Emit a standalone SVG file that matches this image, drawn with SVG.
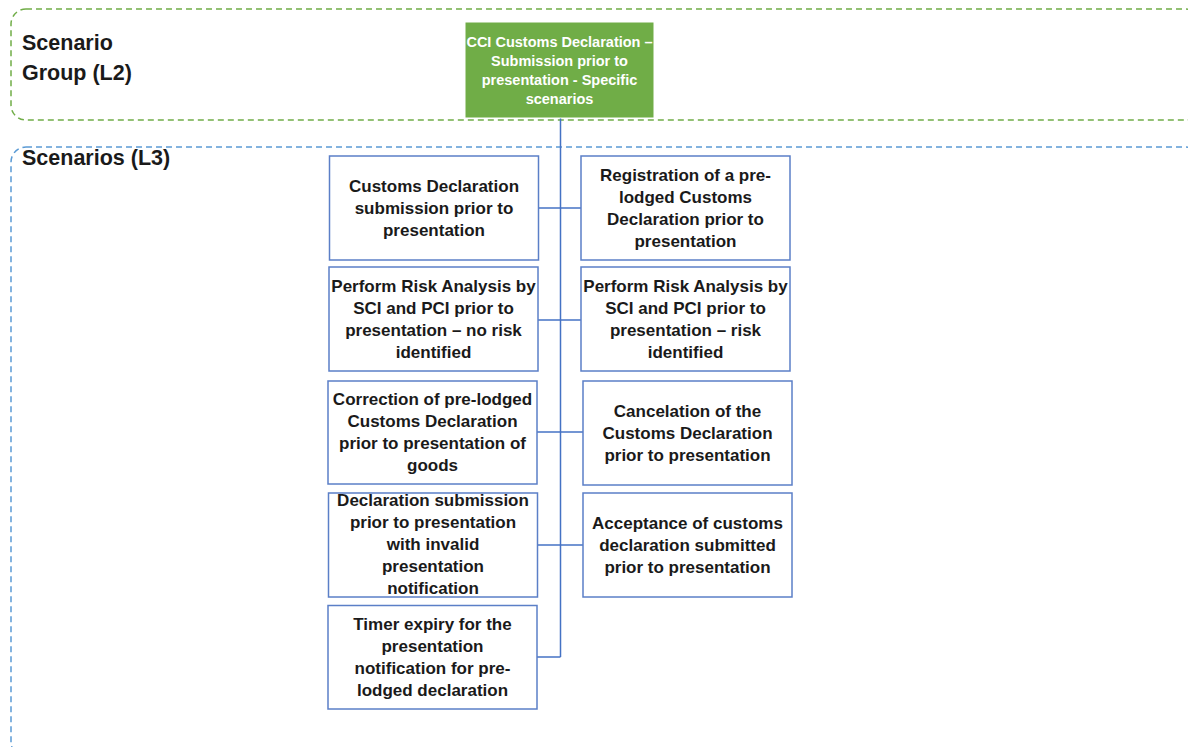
<svg xmlns="http://www.w3.org/2000/svg" width="1188" height="747" viewBox="0 0 1188 747">
<style>
.bg{fill:#ffffff}
.grp{fill:none;stroke-width:1.5;stroke-dasharray:6 4}
.g2{stroke:#70AD47}
.g3{stroke:#5B9BD5}
.hd{font-family:"Liberation Sans",Arial,sans-serif;font-weight:bold;font-size:21.5px;fill:#1a1a1a}
.box{fill:#ffffff;stroke:#5B7FC7;stroke-width:1.5}
.top{fill:#70AD47;stroke:#ffffff;stroke-width:1}
.t{font-family:"Liberation Sans",Arial,sans-serif;font-weight:bold;font-size:17px;fill:#1a1a1a;text-anchor:middle}
.tw{font-family:"Liberation Sans",Arial,sans-serif;font-weight:bold;font-size:14.5px;fill:#ffffff;text-anchor:middle}
.ln{fill:none;stroke:#4472C4;stroke-width:1.5}
</style>
<rect class="bg" x="0" y="0" width="1188" height="747"/>
<g id="group-l2">
<rect class="grp g2" x="11" y="9" width="1190" height="111" rx="15"/>
<text class="hd" x="22" y="50">Scenario</text>
<text class="hd" x="22" y="80">Group (L2)</text>
</g>
<g id="group-l3">
<rect class="grp g3" x="11" y="147" width="1190" height="610" rx="15"/>
<text class="hd" x="22" y="165">Scenarios (L3)</text>
</g>
<g id="connectors">
<path class="ln" d="M560.5 118 V657"/>
<path class="ln" d="M538 208 H581"/>
<path class="ln" d="M538 320 H581"/>
<path class="ln" d="M537 432 H583"/>
<path class="ln" d="M538 545 H583"/>
<path class="ln" d="M537 657 H560.5"/>
</g>
<g id="n0">
<rect class="top" x="465" y="22" width="189" height="96"/>
<text class="tw"><tspan x="559.5" y="47">CCI Customs Declaration –</tspan><tspan x="559.5" y="66">Submission prior to</tspan><tspan x="559.5" y="85">presentation - Specific</tspan><tspan x="559.5" y="104">scenarios</tspan></text>
</g>
<g id="n1">
<rect class="box" x="329.5" y="156" width="209" height="104"/>
<text class="t"><tspan x="434" y="192">Customs Declaration</tspan><tspan x="434" y="214">submission prior to</tspan><tspan x="434" y="236">presentation</tspan></text>
</g>
<g id="n2">
<rect class="box" x="581" y="156" width="209" height="104"/>
<text class="t"><tspan x="685.5" y="181">Registration of a pre-</tspan><tspan x="685.5" y="203">lodged Customs</tspan><tspan x="685.5" y="225">Declaration prior to</tspan><tspan x="685.5" y="247">presentation</tspan></text>
</g>
<g id="n3">
<rect class="box" x="329" y="267" width="209" height="104"/>
<text class="t"><tspan x="433.5" y="292">Perform Risk Analysis by</tspan><tspan x="433.5" y="314">SCI and PCI prior to</tspan><tspan x="433.5" y="336">presentation – no risk</tspan><tspan x="433.5" y="358">identified</tspan></text>
</g>
<g id="n4">
<rect class="box" x="581" y="267" width="209" height="104"/>
<text class="t"><tspan x="685.5" y="292">Perform Risk Analysis by</tspan><tspan x="685.5" y="314">SCI and PCI prior to</tspan><tspan x="685.5" y="336">presentation – risk</tspan><tspan x="685.5" y="358">identified</tspan></text>
</g>
<g id="n5">
<rect class="box" x="328" y="381" width="209" height="103"/>
<text class="t"><tspan x="432.5" y="405">Correction of pre-lodged</tspan><tspan x="432.5" y="427">Customs Declaration</tspan><tspan x="432.5" y="449">prior to presentation of</tspan><tspan x="432.5" y="471">goods</tspan></text>
</g>
<g id="n6">
<rect class="box" x="583" y="381" width="209" height="104"/>
<text class="t"><tspan x="687.5" y="417">Cancelation of the</tspan><tspan x="687.5" y="439">Customs Declaration</tspan><tspan x="687.5" y="461">prior to presentation</tspan></text>
</g>
<g id="n7">
<rect class="box" x="328.5" y="493" width="209" height="104"/>
<text class="t"><tspan x="433" y="506">Declaration submission</tspan><tspan x="433" y="528">prior to presentation</tspan><tspan x="433" y="550">with invalid</tspan><tspan x="433" y="572">presentation</tspan><tspan x="433" y="594">notification</tspan></text>
</g>
<g id="n8">
<rect class="box" x="583" y="493" width="209" height="104"/>
<text class="t"><tspan x="687.5" y="529">Acceptance of customs</tspan><tspan x="687.5" y="551">declaration submitted</tspan><tspan x="687.5" y="573">prior to presentation</tspan></text>
</g>
<g id="n9">
<rect class="box" x="328" y="605.5" width="209" height="103.5"/>
<text class="t"><tspan x="432.5" y="630">Timer expiry for the</tspan><tspan x="432.5" y="652">presentation</tspan><tspan x="432.5" y="674">notification for pre-</tspan><tspan x="432.5" y="696">lodged declaration</tspan></text>
</g>
</svg>
